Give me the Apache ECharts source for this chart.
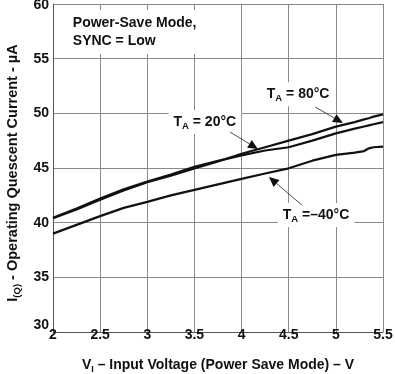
<!DOCTYPE html>
<html>
<head>
<meta charset="utf-8">
<script src="https://cdn.jsdelivr.net/npm/echarts@6/dist/echarts.min.js"></script>
<style>
html,body{margin:0;padding:0;background:#fff;}
#c{width:395px;height:374px;}
</style>
</head>
<body>
<div id="c"></div>
<script>
// Input voltage (V)
var voltage = [2.0, 2.25, 2.5, 2.75, 3.0, 3.25, 3.5, 3.75, 4.0, 4.25, 4.5, 4.75, 5.0, 5.2, 5.3, 5.35, 5.4, 5.5];
// Quiescent current (µA)
var t80  = [40.4, 41.2, 42.1, 42.95, 43.7, 44.3, 44.95, 45.6, 46.3, 46.9, 47.5, 48.1, 48.78, 49.2, 49.45, 49.55, 49.7, 49.9];
var t20  = [40.45, 41.3, 42.2, 43.05, 43.75, 44.4, 45.1, 45.65, 46.15, 46.6, 46.9, 47.5, 48.17, 48.6, 48.8, 48.9, 49.0, 49.2];
var tm40 = [39.0, 39.8, 40.6, 41.35, 41.9, 42.5, 43.0, 43.5, 44.0, 44.5, 44.97, 45.67, 46.2, 46.4, 46.55, 46.8, 46.9, 46.95];
var xTicks = [2, 2.5, 3, 3.5, 4, 4.5, 5, 5.5];
var yTicks = [30, 35, 40, 45, 50, 55, 60];

// Annotations in data coordinates
var labels = [
  {name: '80', text: '{t|T}{s|A}{t| = 80°C}', at: [4.6, 51.75], from: [4.78, 50.58], to: [5.075, 49.11]},
  {name: '20', text: '{t|T}{s|A}{t| = 20°C}', at: [3.61, 49.2], from: [3.877, 48.29], to: [4.174, 46.73]},
  {name: '-40', text: '{t|T}{s|A}{t| =–40°C}', at: [4.79, 40.7], from: [4.64, 41.61], to: [4.29, 44.17]}
];
var noteLines = ['Power-Save Mode,', 'SYNC = Low'];
var noteAt = [2.21, 58.35];

var FONT = '"Liberation Sans", Arial, Helvetica, sans-serif';
var FS = 14;
var chart = echarts.init(document.getElementById('c'));

function pairs(ys) { return voltage.map(function (v, i) { return [v, ys[i]]; }); }
function mkSeries(name, ys) {
  return {
    name: name, type: 'line', data: pairs(ys), showSymbol: false, symbol: 'none',
    smooth: false, z: 5,
    lineStyle: {color: '#111', width: 2.2}
  };
}

chart.setOption({
  animation: false,
  backgroundColor: '#fff',
  grid: {left: 53, right: 12, top: 4, bottom: 42, containLabel: false, outerBoundsMode: 'none'},
  xAxis: {
    type: 'value', min: 2, max: 5.5, interval: 0.5,
    axisLine: {show: true, lineStyle: {color: '#555', width: 1}},
    axisTick: {show: false},
    splitLine: {show: true, lineStyle: {color: '#8a8a8a', width: 1}},
    axisLabel: {
      margin: -4, color: '#111', fontWeight: 'bold', fontSize: FS, fontFamily: FONT,
      formatter: function (v) { return xTicks.indexOf(v) >= 0 ? String(v) : ''; }
    },
    name: '{n|V}{s|I}{n| – Input Voltage (Power Save Mode) – V}',
    nameLocation: 'middle', nameGap: 25,
    nameTextStyle: {
      rich: {
        n: {fontWeight: 'bold', fontSize: FS, fontFamily: FONT, color: '#111'},
        s: {fontWeight: 'bold', fontSize: 9, fontFamily: FONT, color: '#111', padding: [8, 0, 0, 0]}
      }
    }
  },
  yAxis: {
    type: 'value', min: 30, max: 60, interval: 5,
    axisLine: {show: true, lineStyle: {color: '#555', width: 1}},
    axisTick: {show: false},
    splitLine: {show: true, lineStyle: {color: '#8a8a8a', width: 1}},
    axisLabel: {
      margin: 4, color: '#111', fontWeight: 'bold', fontSize: FS, fontFamily: FONT,
      formatter: function (v) {
        if (yTicks.indexOf(v) < 0) return '';
        return v === 30 ? '{low|30}' : (v === 60 ? '{top|60}' : String(v));
      },
      rich: {
        low: {fontWeight: 'bold', fontSize: FS, fontFamily: FONT, color: '#111', padding: [0, 0, 13, 0]},
        top: {fontWeight: 'bold', fontSize: FS, fontFamily: FONT, color: '#111', padding: [3, 0, 0, 0]}
      }
    },
    name: '{n|I}{s|(Q)}{n| - Operating Quescent Current - µA}',
    nameLocation: 'middle', nameGap: 31, nameRotate: 90,
    nameTextStyle: {
      padding: [0, 10, 0, 0],
      rich: {
        n: {fontWeight: 'bold', fontSize: 14.5, fontFamily: FONT, color: '#111'},
        s: {fontWeight: 'bold', fontSize: 9.5, fontFamily: FONT, color: '#111', padding: [8, 0, 0, 0]}
      }
    }
  },
  series: [mkSeries('TA = 80°C', t80), mkSeries('TA = 20°C', t20), mkSeries('TA = -40°C', tm40)]
});

function px(p) { return chart.convertToPixel({gridIndex: 0}, p); }

var graphics = [];
var richT = {
  t: {fontWeight: 'bold', fontSize: FS, fontFamily: FONT, fill: '#111'},
  s: {fontWeight: 'bold', fontSize: 9.5, fontFamily: FONT, fill: '#111', padding: [8, 0, 0, 0]}
};
labels.forEach(function (L) {
  var c = px(L.at), a = px(L.from), b = px(L.to);
  graphics.push({
    type: 'text', x: c[0], y: c[1], z: 3,
    style: {text: L.text, rich: richT, align: 'center', verticalAlign: 'middle',
            backgroundColor: '#fff', padding: [3, 5, 3, 5]}
  });
  var dx = b[0] - a[0], dy = b[1] - a[1], len = Math.sqrt(dx * dx + dy * dy);
  var ux = dx / len, uy = dy / len, hl = 10, hw = 4.5;
  var bx = b[0] - ux * hl, by = b[1] - uy * hl;
  graphics.push({type: 'line', z: 6, shape: {x1: a[0], y1: a[1], x2: bx, y2: by},
                 style: {stroke: '#222', lineWidth: 0.8}});
  graphics.push({type: 'polygon', z: 6, shape: {points: [[b[0], b[1]],
                 [bx - uy * hw, by + ux * hw], [bx + uy * hw, by - ux * hw]]},
                 style: {fill: '#111'}});
});
var n = px(noteAt);
graphics.push({
  type: 'text', x: n[0] - 8, y: n[1] - 12, z: 3,
  style: {text: noteLines.join('\n'), fontWeight: 'bold', fontSize: FS, fontFamily: FONT,
          fill: '#111', lineHeight: 18, backgroundColor: '#fff', padding: [4, 8, 4, 8],
          align: 'left', verticalAlign: 'top'}
});
chart.setOption({graphic: graphics});
</script>
</body>
</html>
